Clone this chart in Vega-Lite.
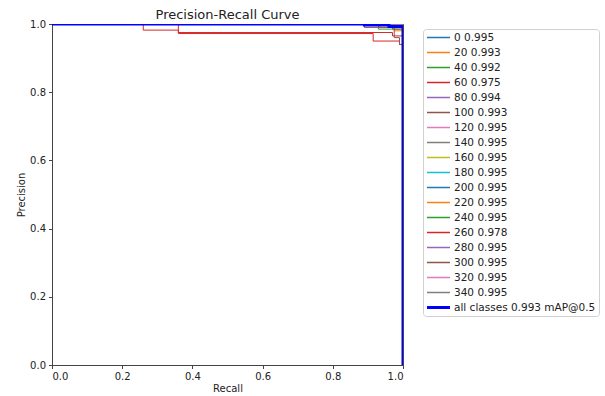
{
  "$schema": "https://vega.github.io/schema/vega-lite/v6.json",
  "autosize": {"type": "none"},
  "padding": {"left": 52, "top": 24, "right": 202, "bottom": 31},
  "width": 351,
  "height": 341,
  "background": "white",
  "title": {"text": "Precision-Recall Curve", "fontSize": 13, "fontWeight": "normal", "font": "DejaVu Sans", "color": "#222", "anchor": "middle", "offset": -3},
  "config": {
    "font": "DejaVu Sans",
    "view": {"stroke": "#444", "strokeWidth": 1},
    "axis": {"grid": false, "domainColor": "#444", "tickColor": "#444", "tickSize": 3.5, "labelPadding": 3, "labelFontSize": 10, "labelColor": "#222", "titleFontSize": 10, "titleFontWeight": "normal", "titleColor": "#222", "labelFont": "DejaVu Sans", "titleFont": "DejaVu Sans"}
  },
  "data": {"values": [
    {"name": "0 0.995", "recall": 0, "precision": 1},
    {"name": "0 0.995", "recall": 1, "precision": 0},
    {"name": "20 0.993", "recall": 0, "precision": 1},
    {"name": "20 0.993", "recall": 0.935, "precision": 0.99},
    {"name": "20 0.993", "recall": 0.975, "precision": 0.98},
    {"name": "20 0.993", "recall": 1, "precision": 0},
    {"name": "40 0.992", "recall": 0, "precision": 1},
    {"name": "40 0.992", "recall": 0.93, "precision": 0.985},
    {"name": "40 0.992", "recall": 1, "precision": 0},
    {"name": "60 0.975", "recall": 0, "precision": 1},
    {"name": "60 0.975", "recall": 0.26, "precision": 0.982},
    {"name": "60 0.975", "recall": 0.36, "precision": 0.972},
    {"name": "60 0.975", "recall": 0.915, "precision": 0.95},
    {"name": "60 0.975", "recall": 0.99, "precision": 0.94},
    {"name": "60 0.975", "recall": 1, "precision": 0},
    {"name": "80 0.994", "recall": 0, "precision": 1},
    {"name": "80 0.994", "recall": 0.96, "precision": 0.99},
    {"name": "80 0.994", "recall": 1, "precision": 0},
    {"name": "100 0.993", "recall": 0, "precision": 1},
    {"name": "100 0.993", "recall": 0.89, "precision": 0.99},
    {"name": "100 0.993", "recall": 0.975, "precision": 0.96},
    {"name": "100 0.993", "recall": 0.99, "precision": 0.94},
    {"name": "100 0.993", "recall": 1, "precision": 0},
    {"name": "120 0.995", "recall": 0, "precision": 1},
    {"name": "120 0.995", "recall": 1, "precision": 0},
    {"name": "140 0.995", "recall": 0, "precision": 1},
    {"name": "140 0.995", "recall": 0.975, "precision": 0.995},
    {"name": "140 0.995", "recall": 1, "precision": 0},
    {"name": "160 0.995", "recall": 0, "precision": 1},
    {"name": "160 0.995", "recall": 1, "precision": 0},
    {"name": "180 0.995", "recall": 0, "precision": 1},
    {"name": "180 0.995", "recall": 1, "precision": 0},
    {"name": "200 0.995", "recall": 0, "precision": 1},
    {"name": "200 0.995", "recall": 1, "precision": 0},
    {"name": "220 0.995", "recall": 0, "precision": 1},
    {"name": "220 0.995", "recall": 1, "precision": 0},
    {"name": "240 0.995", "recall": 0, "precision": 1},
    {"name": "240 0.995", "recall": 1, "precision": 0},
    {"name": "260 0.978", "recall": 0, "precision": 1},
    {"name": "260 0.978", "recall": 0.36, "precision": 0.975},
    {"name": "260 0.978", "recall": 0.97, "precision": 0.965},
    {"name": "260 0.978", "recall": 1, "precision": 0},
    {"name": "280 0.995", "recall": 0, "precision": 1},
    {"name": "280 0.995", "recall": 1, "precision": 0},
    {"name": "300 0.995", "recall": 0, "precision": 1},
    {"name": "300 0.995", "recall": 0.97, "precision": 0.985},
    {"name": "300 0.995", "recall": 1, "precision": 0},
    {"name": "320 0.995", "recall": 0, "precision": 1},
    {"name": "320 0.995", "recall": 1, "precision": 0},
    {"name": "340 0.995", "recall": 0, "precision": 1},
    {"name": "340 0.995", "recall": 1, "precision": 0},
    {"name": "all classes 0.993 mAP@0.5", "recall": 0, "precision": 1},
    {"name": "all classes 0.993 mAP@0.5", "recall": 0.89, "precision": 0.997},
    {"name": "all classes 0.993 mAP@0.5", "recall": 0.96, "precision": 0.993},
    {"name": "all classes 0.993 mAP@0.5", "recall": 1, "precision": 0}
  ]},
  "encoding": {
    "x": {"field": "recall", "type": "quantitative", "title": "Recall", "scale": {"domain": [0, 1], "nice": false, "zero": false}, "axis": {"values": [0, 0.2, 0.4, 0.6, 0.8, 1], "format": ".1f", "titlePadding": 2}},
    "y": {"field": "precision", "type": "quantitative", "title": "Precision", "scale": {"domain": [0, 1], "nice": false, "zero": false}, "axis": {"values": [0, 0.2, 0.4, 0.6, 0.8, 1], "format": ".1f", "titlePadding": 3.5}},
    "color": {"field": "name", "type": "nominal", "title": null,
      "scale": {
        "domain": ["0 0.995", "20 0.993", "40 0.992", "60 0.975", "80 0.994", "100 0.993", "120 0.995", "140 0.995", "160 0.995", "180 0.995", "200 0.995", "220 0.995", "240 0.995", "260 0.978", "280 0.995", "300 0.995", "320 0.995", "340 0.995", "all classes 0.993 mAP@0.5"],
        "range": ["#1f77b4", "#ff7f0e", "#2ca02c", "#d62728", "#9467bd", "#8c564b", "#e377c2", "#7f7f7f", "#bcbd22", "#17becf", "#1f77b4", "#ff7f0e", "#2ca02c", "#d62728", "#9467bd", "#8c564b", "#e377c2", "#7f7f7f", "#0000ff"]
      },
      "legend": {"orient": "none", "legendX": 371, "legendY": 5, "symbolType": "M-1,0H1", "symbolSize": 529, "symbolStrokeWidth": 1.5, "clipHeight": 11, "labelFontSize": 10.5, "labelColor": "#222", "labelFont": "DejaVu Sans", "labelOffset": 3, "rowPadding": 4, "padding": 3, "strokeColor": "#d0d0d0", "cornerRadius": 3, "fillColor": "white", "labelLimit": 300,
        "encoding": {"symbols": {"strokeWidth": {"value": {"expr": "(datum.value === 'all classes 0.993 mAP@0.5' ? 3 : 1.5)"}}}}}
    }
  },
  "layer": [
    {"transform": [{"filter": "datum.name !== 'all classes 0.993 mAP@0.5'"}], "mark": {"type": "line", "interpolate": "step-after", "clip": true, "strokeWidth": 1}},
    {"transform": [{"filter": "datum.name === 'all classes 0.993 mAP@0.5'"}], "mark": {"type": "line", "interpolate": "step-after", "clip": true, "strokeWidth": 3}}
  ]
}
